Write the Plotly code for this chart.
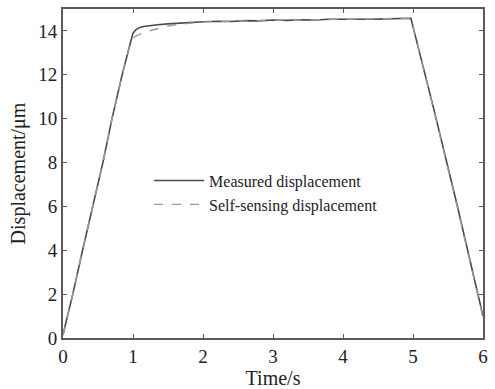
import plotly.graph_objects as go

time_measured = [0, 0.05, 0.14, 0.28, 0.43, 0.57, 0.70, 0.845, 0.97, 1.0, 1.04, 1.09, 1.15, 1.25,
                 1.35, 1.5, 1.65, 1.8, 2.0, 2.2, 2.4, 2.6, 2.8, 3.0, 3.2, 3.4, 3.6, 3.8, 4.0,
                 4.2, 4.4, 4.6, 4.8, 4.97, 5.3, 5.62, 6.0]
disp_measured = [0.15, 0.8, 2.0, 4.0, 6.0, 8.0, 10.0, 12.0, 13.55, 13.9, 14.05, 14.15, 14.2, 14.25,
                 14.28, 14.32, 14.36, 14.38, 14.42, 14.44, 14.43, 14.47, 14.46, 14.5, 14.48, 14.51,
                 14.5, 14.53, 14.52, 14.54, 14.53, 14.55, 14.56, 14.58, 10.4, 6.2, 1.0]

time_self = [0, 0.05, 0.14, 0.28, 0.43, 0.57, 0.70, 0.845, 0.97, 1.0, 1.04, 1.09, 1.15, 1.25,
             1.35, 1.5, 1.65, 1.8, 2.0, 2.2, 2.4, 2.6, 2.8, 3.0, 3.2, 3.4, 3.6, 3.8, 4.0,
             4.2, 4.4, 4.6, 4.8, 4.97, 5.3, 5.62, 6.0]
disp_self = [0.12, 0.78, 2.0, 4.0, 6.0, 8.0, 10.0, 12.0, 13.5, 13.68, 13.76, 13.84, 13.92, 14.02,
             14.1, 14.22, 14.3, 14.36, 14.41, 14.43, 14.45, 14.46, 14.48, 14.49, 14.5, 14.5,
             14.52, 14.51, 14.53, 14.54, 14.55, 14.54, 14.56, 14.57, 10.35, 6.15, 0.95]

x_ticks = [0, 1, 2, 3, 4, 5, 6]
y_ticks = [0, 2, 4, 6, 8, 10, 12, 14]

font_family = "Liberation Serif"

fig = go.Figure()
fig.add_trace(go.Scatter(x=time_measured, y=disp_measured, mode="lines",
                         name="Measured displacement",
                         line=dict(color="#4a4a4a", width=1.6)))
fig.add_trace(go.Scatter(x=time_self, y=disp_self, mode="lines",
                         name="Self-sensing displacement",
                         line=dict(color="#9a9a9a", width=1.4, dash="dash")))

axis_common = dict(showline=True, mirror="ticks", linecolor="#5a5a5a", linewidth=1.8,
                   ticks="inside", ticklen=4, tickcolor="#5a5a5a", tickwidth=1,
                   showgrid=False, zeroline=False,
                   tickfont=dict(family=font_family, size=19, color="#222222"))

fig.update_layout(
    width=495, height=389,
    margin=dict(l=63, r=8, t=7, b=51),
    paper_bgcolor="white", plot_bgcolor="white",
    font=dict(family=font_family, color="#222222"),
    xaxis=dict(range=[0, 6], tickvals=x_ticks,
               title=dict(text="Time/s", font=dict(family=font_family, size=20), standoff=0),
               **axis_common),
    yaxis=dict(range=[0, 15], tickvals=y_ticks,
               title=dict(text="Displacement/μm", font=dict(family=font_family, size=20), standoff=7),
               **axis_common),
    legend=dict(x=0.205, y=0.53, xanchor="left", yanchor="top",
                bgcolor="rgba(0,0,0,0)", itemwidth=50, tracegroupgap=0,
                font=dict(family=font_family, size=16, color="#222222")),
    showlegend=True,
)

fig.write_html("out.html")
